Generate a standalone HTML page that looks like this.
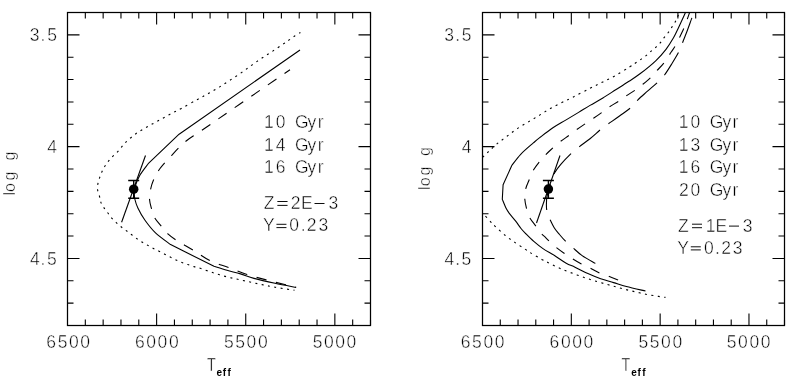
<!DOCTYPE html>
<html><head><meta charset="utf-8"><title>log g vs Teff</title>
<style>
html,body{margin:0;padding:0;background:#fff;}
body{width:795px;height:389px;overflow:hidden;}
svg{display:block;will-change:transform;}
.fr{fill:none;stroke:#000;stroke-width:1.25;}
.tk{fill:none;stroke:#000;stroke-width:1.1;}
.c{fill:none;stroke:#000;stroke-width:1.1;stroke-linejoin:round;}
.dot{stroke-dasharray:2 4.4;}
.dsh{stroke-dasharray:10 10;}
.lds{stroke-dasharray:26.5 10.7;}
.l_dot{stroke-dasharray:2 4.4227;stroke-dashoffset:0.4;}
.l_dsh{stroke-dasharray:10.3 9.7;stroke-dashoffset:3.5;}
.r_dot_a{stroke-dasharray:2 4.415;stroke-dashoffset:2.63;}
.r_dot_b{stroke-dasharray:2 4.442;stroke-dashoffset:0.5;}
.eb{fill:none;stroke:#000;stroke-width:1.4;}
.tx .hg{fill-opacity:0;stroke-opacity:0;}
.tx .gl{fill:none;stroke:#000;stroke-width:0.95;}
.tx text{font-family:"Liberation Sans",sans-serif;fill:#000;stroke:#fff;stroke-width:0.45;paint-order:normal;}
</style></head>
<body>
<svg width="795" height="389" viewBox="0 0 795 389">
<defs>
<clipPath id="cl"><rect x="67.5" y="12.5" width="303" height="313"/></clipPath>
<clipPath id="cr"><rect x="482.5" y="12.5" width="302" height="313"/></clipPath>
</defs>
<rect width="795" height="389" fill="#fff"/>
<rect x="67.5" y="12.5" width="303.0" height="313.0" class="fr"/>
<path d="M85.32,12.5v6M85.32,325.5v-6M103.15,12.5v6M103.15,325.5v-6M120.97,12.5v6M120.97,325.5v-6M138.79,12.5v6M138.79,325.5v-6M156.62,12.5v12M156.62,325.5v-12M174.44,12.5v6M174.44,325.5v-6M192.26,12.5v6M192.26,325.5v-6M210.09,12.5v6M210.09,325.5v-6M227.91,12.5v6M227.91,325.5v-6M245.74,12.5v12M245.74,325.5v-12M263.56,12.5v6M263.56,325.5v-6M281.38,12.5v6M281.38,325.5v-6M299.21,12.5v6M299.21,325.5v-6M317.03,12.5v6M317.03,325.5v-6M334.85,12.5v12M334.85,325.5v-12M352.68,12.5v6M352.68,325.5v-6M370.50,12.5v6M370.50,325.5v-6M67.5,34.86h12M370.5,34.86h-12M67.5,57.21h6M370.5,57.21h-6M67.5,79.57h6M370.5,79.57h-6M67.5,101.93h6M370.5,101.93h-6M67.5,124.29h6M370.5,124.29h-6M67.5,146.64h12M370.5,146.64h-12M67.5,169.00h6M370.5,169.00h-6M67.5,191.36h6M370.5,191.36h-6M67.5,213.71h6M370.5,213.71h-6M67.5,236.07h6M370.5,236.07h-6M67.5,258.43h12M370.5,258.43h-12M67.5,280.79h6M370.5,280.79h-6M67.5,303.14h6M370.5,303.14h-6" class="tk"/>
<rect x="482.5" y="12.5" width="302.0" height="313.0" class="fr"/>
<path d="M500.26,12.5v6M500.26,325.5v-6M518.03,12.5v6M518.03,325.5v-6M535.79,12.5v6M535.79,325.5v-6M553.56,12.5v6M553.56,325.5v-6M571.32,12.5v12M571.32,325.5v-12M589.09,12.5v6M589.09,325.5v-6M606.85,12.5v6M606.85,325.5v-6M624.62,12.5v6M624.62,325.5v-6M642.38,12.5v6M642.38,325.5v-6M660.15,12.5v12M660.15,325.5v-12M677.91,12.5v6M677.91,325.5v-6M695.68,12.5v6M695.68,325.5v-6M713.44,12.5v6M713.44,325.5v-6M731.21,12.5v6M731.21,325.5v-6M748.97,12.5v12M748.97,325.5v-12M766.74,12.5v6M766.74,325.5v-6M784.50,12.5v6M784.50,325.5v-6M482.5,34.86h12M784.5,34.86h-12M482.5,57.21h6M784.5,57.21h-6M482.5,79.57h6M784.5,79.57h-6M482.5,101.93h6M784.5,101.93h-6M482.5,124.29h6M784.5,124.29h-6M482.5,146.64h12M784.5,146.64h-12M482.5,169.00h6M784.5,169.00h-6M482.5,191.36h6M784.5,191.36h-6M482.5,213.71h6M784.5,213.71h-6M482.5,236.07h6M784.5,236.07h-6M482.5,258.43h12M784.5,258.43h-12M482.5,280.79h6M784.5,280.79h-6M482.5,303.14h6M784.5,303.14h-6" class="tk"/>
<g clip-path="url(#cl)"><path d="M300.40,32.50 C299.50,33.05 296.87,34.57 295.00,35.80 C293.13,37.03 291.03,38.62 289.20,39.90 C287.37,41.18 286.68,41.67 284.00,43.50 C281.32,45.33 276.70,48.52 273.10,50.90 C269.50,53.28 265.95,55.43 262.40,57.80 C258.85,60.17 255.28,62.63 251.80,65.10 C248.32,67.57 245.13,70.08 241.50,72.60 C237.87,75.12 233.70,77.78 230.00,80.20 C226.30,82.62 222.85,84.92 219.30,87.10 C215.75,89.28 212.32,91.25 208.70,93.30 C205.08,95.35 202.17,96.88 197.60,99.40 C193.03,101.92 185.95,105.90 181.30,108.40 C176.65,110.90 173.55,112.33 169.70,114.40 C165.85,116.47 162.00,118.70 158.20,120.80 C154.40,122.90 150.62,124.85 146.90,127.00 C143.18,129.15 139.45,131.13 135.90,133.70 C132.35,136.27 128.50,139.55 125.60,142.40 C122.70,145.25 121.10,147.98 118.50,150.80 C115.90,153.62 112.43,156.47 110.00,159.30 C107.57,162.13 105.63,164.72 103.90,167.80 C102.17,170.88 100.68,174.47 99.60,177.80 C98.52,181.13 97.42,184.72 97.40,187.80 C97.38,190.88 98.93,193.92 99.50,196.30 C100.07,198.68 100.05,200.17 100.80,202.10 C101.55,204.03 102.82,206.08 104.00,207.90 C105.18,209.72 106.62,211.30 107.90,213.00 C109.18,214.70 110.32,216.50 111.70,218.10 C113.08,219.70 114.70,221.20 116.20,222.60 C117.70,224.00 119.10,225.22 120.70,226.50 C122.30,227.78 124.08,229.02 125.80,230.30 C127.52,231.58 129.28,232.90 131.00,234.20 C132.72,235.50 134.28,236.80 136.10,238.10 C137.92,239.40 139.97,240.80 141.90,242.00 C143.83,243.20 145.78,244.23 147.70,245.30 C149.62,246.37 151.52,247.42 153.40,248.40 C155.28,249.38 157.12,250.23 159.00,251.20 C160.88,252.17 162.82,253.22 164.70,254.20 C166.58,255.18 168.42,256.15 170.30,257.10 C172.18,258.05 174.07,259.00 176.00,259.90 C177.93,260.80 179.93,261.72 181.90,262.50 C183.87,263.28 185.78,263.92 187.80,264.60 C189.82,265.28 191.82,265.95 194.00,266.60 C196.18,267.25 197.80,267.50 200.90,268.50 C204.00,269.50 208.55,271.28 212.60,272.60 C216.65,273.92 221.02,275.28 225.20,276.40 C229.38,277.52 233.57,278.37 237.70,279.30 C241.83,280.23 245.95,281.12 250.00,282.00 C254.05,282.88 257.83,283.73 262.00,284.60 C266.17,285.47 269.58,286.25 275.00,287.20 C280.42,288.15 291.25,289.78 294.50,290.30" class="c dot ldot l_dot"/>
<path d="M300.00,50.00 L179.10,134.20 L148.20,163.70 C146.83,165.58 142.10,171.45 140.00,175.00 C137.90,178.55 136.55,182.17 135.60,185.00 C134.65,187.83 134.43,189.67 134.30,192.00 C134.17,194.33 134.18,196.30 134.80,199.00 C135.42,201.70 136.30,204.65 138.00,208.20 C139.70,211.75 142.08,216.18 145.00,220.30 C147.92,224.42 151.23,228.85 155.50,232.90 C159.77,236.95 168.08,242.65 170.60,244.60 L214.00,266.30 C216.17,266.97 222.58,269.03 227.00,270.30 C231.42,271.57 236.00,272.55 240.50,273.90 C245.00,275.25 248.25,276.83 254.00,278.40 C259.75,279.97 267.97,281.80 275.00,283.30 C282.03,284.80 292.67,286.72 296.20,287.40" class="c sol lsol l_sol"/>
<path d="M290.00,69.80 C281.67,75.50 254.72,93.90 240.00,104.00 C225.28,114.10 210.82,124.12 201.70,130.40 C192.58,136.68 190.43,137.42 185.30,141.70 C180.17,145.98 175.12,151.63 170.90,156.10 C166.68,160.57 162.90,164.52 160.00,168.50 C157.10,172.48 155.13,176.25 153.50,180.00 C151.87,183.75 150.85,187.67 150.20,191.00 C149.55,194.33 149.40,197.13 149.60,200.00 C149.80,202.87 150.58,205.28 151.40,208.20 C152.22,211.12 152.78,214.42 154.50,217.50 C156.22,220.58 159.47,223.97 161.70,226.70 C163.93,229.43 165.50,231.67 167.90,233.90 C170.30,236.13 171.83,237.35 176.10,240.10 C180.37,242.85 187.85,246.97 193.50,250.40 C199.15,253.83 204.17,257.85 210.00,260.70 C215.83,263.55 222.33,265.20 228.50,267.50 C234.67,269.80 240.72,272.43 247.00,274.50 C253.28,276.57 259.92,278.23 266.20,279.90 C272.48,281.57 279.73,283.28 284.70,284.50 C289.67,285.72 294.12,286.75 296.00,287.20" class="c dsh ldsh l_dsh"/></g>
<g clip-path="url(#cr)"><path d="M480.00,160.00 C481.28,158.73 484.92,155.05 487.70,152.40 C490.48,149.75 493.48,146.78 496.70,144.10 C499.92,141.42 503.57,138.88 507.00,136.30 C510.43,133.72 513.67,131.05 517.30,128.60 C520.93,126.15 525.02,123.88 528.80,121.60 C532.58,119.32 536.42,117.08 540.00,114.90 C543.58,112.72 546.65,110.57 550.30,108.50 C553.95,106.43 558.05,104.43 561.90,102.50 C565.75,100.57 568.72,99.27 573.40,96.90 C578.08,94.53 585.08,90.80 590.00,88.30 C594.92,85.80 598.62,84.05 602.90,81.90 C607.18,79.75 611.27,77.88 615.70,75.40 C620.13,72.92 626.15,69.10 629.50,67.00 C632.85,64.90 633.78,64.15 635.80,62.80 C637.82,61.45 639.78,60.18 641.60,58.90 C643.42,57.62 645.10,56.38 646.70,55.10 C648.30,53.82 649.70,52.48 651.20,51.20 C652.70,49.92 654.20,48.78 655.70,47.40 C657.20,46.02 658.80,44.52 660.20,42.90 C661.60,41.28 662.75,39.43 664.10,37.70 C665.45,35.97 667.03,34.22 668.30,32.50 C669.57,30.78 670.53,29.18 671.70,27.40 C672.87,25.62 674.27,23.68 675.30,21.80 C676.33,19.92 677.12,17.65 677.90,16.10 C678.68,14.55 679.65,13.10 680.00,12.50" class="c dot rdot r_dot_a"/>
<path d="M665.50,297.40 C664.33,297.23 661.80,296.93 658.50,296.40 C655.20,295.87 649.87,295.03 645.70,294.20 C641.53,293.37 637.62,292.38 633.50,291.40 C629.38,290.42 625.18,289.40 621.00,288.30 C616.82,287.20 613.15,286.15 608.40,284.80 C603.65,283.45 597.75,281.85 592.50,280.20 C587.25,278.55 582.15,276.80 576.90,274.90 C571.65,273.00 565.85,270.88 561.00,268.80 C556.15,266.72 551.00,263.97 547.80,262.40 C544.60,260.83 544.60,260.95 541.80,259.40 C539.00,257.85 533.80,254.82 531.00,253.10 C528.20,251.38 527.70,250.88 525.00,249.10 C522.30,247.32 518.13,244.72 514.80,242.40 C511.47,240.08 508.28,237.88 505.00,235.20 C501.72,232.52 497.50,228.53 495.10,226.30 C492.70,224.07 492.58,223.93 490.60,221.80 C488.62,219.67 484.97,215.50 483.20,213.50 C481.43,211.50 480.53,210.42 480.00,209.80" class="c dot rdot r_dot_b"/>
<path d="M645.50,291.00 C642.32,290.25 631.72,287.90 626.40,286.50 C621.08,285.10 617.88,283.88 613.60,282.60 C609.32,281.32 604.98,280.30 600.70,278.80 C596.42,277.30 592.18,275.53 587.90,273.60 C583.62,271.67 578.62,268.93 575.00,267.20 C571.38,265.47 569.62,265.15 566.20,263.20 C562.78,261.25 558.37,257.93 554.50,255.50 C550.63,253.07 546.45,250.95 543.00,248.60 C539.55,246.25 536.70,243.92 533.80,241.40 C530.90,238.88 527.73,235.65 525.60,233.50 C523.47,231.35 522.65,230.55 521.00,228.50 C519.35,226.45 517.65,223.72 515.70,221.20 C513.75,218.68 510.90,215.55 509.30,213.40 C507.70,211.25 507.27,210.65 506.10,208.30 C504.93,205.95 502.93,200.80 502.30,199.30 L503.10,184.80 L511.80,165.50 C513.28,163.63 517.07,158.10 520.70,154.30 C524.33,150.50 530.38,145.52 533.60,142.70 C536.82,139.88 536.78,139.88 540.00,137.40 C543.22,134.92 548.62,130.68 552.90,127.80 C557.18,124.92 561.42,122.67 565.70,120.10 C569.98,117.53 574.55,114.85 578.60,112.40 C582.65,109.95 585.95,107.80 590.00,105.40 C594.05,103.00 598.62,100.60 602.90,98.00 C607.18,95.40 611.42,92.55 615.70,89.80 C619.98,87.05 624.55,84.17 628.60,81.50 C632.65,78.83 635.48,77.25 640.00,73.80 C644.52,70.35 651.37,64.88 655.70,60.80 C660.03,56.72 663.03,53.13 666.00,49.30 C668.97,45.47 671.40,41.43 673.50,37.80 C675.60,34.17 676.60,31.72 678.60,27.50 C680.60,23.28 684.35,15.00 685.50,12.50" class="c sol rsol r_sol"/>
<path d="M618.10,280.10 C616.48,279.45 611.52,277.38 608.40,276.20 C605.28,275.02 602.50,274.38 599.40,273.00 C596.30,271.62 592.80,269.40 589.80,267.90 C586.80,266.40 584.27,265.52 581.40,264.00 C578.53,262.48 575.48,260.60 572.60,258.80 C569.72,257.00 566.82,255.08 564.10,253.20 C561.38,251.32 558.78,249.50 556.30,247.50 C553.82,245.50 551.08,242.97 549.20,241.20 C547.32,239.43 546.33,238.20 545.00,236.90 C543.67,235.60 542.68,235.15 541.20,233.40 C539.72,231.65 538.03,229.07 536.10,226.40 C534.17,223.73 531.18,220.33 529.60,217.40 C528.02,214.47 527.42,212.07 526.60,208.80 C525.78,205.53 524.83,201.18 524.70,197.80 C524.57,194.42 525.02,191.60 525.80,188.50 C526.58,185.40 528.20,182.15 529.40,179.20 C530.60,176.25 531.35,173.67 533.00,170.80 C534.65,167.93 537.23,164.62 539.30,162.00 C541.37,159.38 543.52,157.10 545.40,155.10 C547.28,153.10 548.18,152.20 550.60,150.00 C553.02,147.80 556.85,144.32 559.90,141.90 C562.95,139.48 566.12,137.53 568.90,135.50 C571.68,133.47 573.82,131.70 576.60,129.70 C579.38,127.70 582.78,125.40 585.60,123.50 C588.42,121.60 590.73,120.18 593.50,118.30 C596.27,116.42 599.57,114.10 602.20,112.20 C604.83,110.30 606.52,108.75 609.30,106.90 C612.08,105.05 616.12,102.92 618.90,101.10 C621.68,99.28 623.32,97.82 626.00,96.00 C628.68,94.18 632.25,92.12 635.00,90.20 C637.75,88.28 639.90,86.60 642.50,84.50 C645.10,82.40 648.18,79.93 650.60,77.60 C653.02,75.27 654.75,72.97 657.00,70.50 C659.25,68.03 661.73,65.88 664.10,62.80 C666.47,59.72 669.33,54.82 671.20,52.00 C673.07,49.18 673.93,48.28 675.30,45.90 C676.67,43.52 677.95,40.70 679.40,37.70 C680.85,34.70 682.72,30.90 684.00,27.90 C685.28,24.90 686.17,22.27 687.10,19.70 C688.03,17.13 689.18,13.70 689.60,12.50" class="c dsh rdsh r_dsh"/>
<path d="M595.40,263.40 C593.18,262.10 585.90,258.25 582.10,255.60 C578.30,252.95 575.37,249.90 572.60,247.50 C569.83,245.10 567.68,243.37 565.50,241.20 C563.32,239.03 561.38,236.75 559.50,234.50 C557.62,232.25 555.92,230.48 554.20,227.70 C552.48,224.92 550.40,220.50 549.20,217.80 C548.00,215.10 547.47,213.63 547.00,211.50 C546.53,209.37 546.42,207.42 546.40,205.00 C546.38,202.58 546.47,199.67 546.90,197.00 C547.33,194.33 548.28,191.75 549.00,189.00 C549.72,186.25 550.25,183.23 551.20,180.50 C552.15,177.77 553.10,175.28 554.70,172.60 C556.30,169.92 558.25,167.40 560.80,164.40 C563.35,161.40 566.88,157.57 570.00,154.60 C573.12,151.63 576.17,149.25 579.50,146.60 C582.83,143.95 586.40,141.62 590.00,138.70 C593.60,135.78 598.05,131.57 601.10,129.10 C604.15,126.63 605.23,126.08 608.30,123.90 C611.37,121.72 615.72,118.73 619.50,116.00 C623.28,113.27 627.93,110.20 631.00,107.50 C634.07,104.80 635.15,102.52 637.90,99.80 C640.65,97.08 644.23,94.10 647.50,91.20 C650.77,88.30 654.67,85.10 657.50,82.40 C660.33,79.70 662.08,78.15 664.50,75.00 C666.92,71.85 669.57,67.45 672.00,63.50 C674.43,59.55 677.35,54.75 679.10,51.30 C680.85,47.85 681.10,46.35 682.50,42.80 C683.90,39.25 685.88,34.28 687.50,30.00 C689.12,25.72 691.08,20.02 692.20,17.10 C693.32,14.18 693.87,13.27 694.20,12.50" class="c lds rlds r_lds"/></g>
<path d="M145.5,155.5L121.6,222.2" class="c sol"/>
<path d="M128.20,180.5h11M128.20,198.3h11M133.70,180.5V198.3" class="eb"/>
<circle cx="133.7" cy="189.2" r="4.75" fill="#000"/>
<path d="M560,155.5L536.5,223" class="c sol"/>
<path d="M542.90,180.5h11M542.90,198.3h11M548.40,180.5V198.3" class="eb"/>
<circle cx="548.4" cy="189.1" r="4.75" fill="#000"/>
<g class="tx">
<text x="46.32 57.70 68.98 80.28" y="348.2" font-size="17.5">6500</text>
<text x="134.92 146.28 157.58 168.88" y="348.2" font-size="17.5">6000</text>
<text x="224.00 235.30 246.58 257.88" y="348.2" font-size="17.5">5500</text>
<text x="312.70 323.98 335.28 346.58" y="348.2" font-size="17.5">5000</text>
<text x="29.68 40.57 47.25" y="40.7" font-size="17.5">3.5</text>
<text x="47.19" y="152.6" font-size="17.5">4</text>
<text x="29.89 40.57 46.95" y="264.5" font-size="17.5">4.5</text>
<text x="0" y="0" font-size="18.5" transform="translate(206.98,370.6) scale(0.775,1)">T</text>
<text x="216.54 222.79 227.59" y="376.0" font-size="10" font-weight="bold" style="stroke:none">eff</text>
<text x="0.62 4.05 15.53 23.78 35.43" y="0" font-size="16" transform="translate(14.6,196.0) rotate(-90)">log g</text>
<text x="460.72 472.10 483.38 494.68" y="348.2" font-size="17.5">6500</text>
<text x="549.62 560.98 572.28 583.58" y="348.2" font-size="17.5">6000</text>
<text x="638.50 649.80 661.08 672.38" y="348.2" font-size="17.5">5500</text>
<text x="726.80 738.08 749.38 760.68" y="348.2" font-size="17.5">5000</text>
<text x="444.28 455.17 461.85" y="40.7" font-size="17.5">3.5</text>
<text x="461.79" y="152.6" font-size="17.5">4</text>
<text x="444.49 455.17 461.55" y="264.5" font-size="17.5">4.5</text>
<text x="0" y="0" font-size="18.5" transform="translate(621.58,370.6) scale(0.775,1)">T</text>
<text x="631.14 637.39 642.19" y="376.0" font-size="10" font-weight="bold" style="stroke:none">eff</text>
<text x="6.02 9.75 20.43 28.78 40.03" y="0" font-size="16" transform="translate(429.8,196.0) rotate(-90)">log g</text>
<text x="264.03 275.73 287.57 295.06 307.52 317.85" y="128.4" font-size="17.5">10 Gyr</text>
<text x="264.03 275.79 287.57 295.06 307.52 317.85" y="150.9" font-size="17.5">14 Gyr</text>
<text x="264.03 275.67 287.57 295.06 307.52 317.85" y="173.1" font-size="17.5">16 Gyr</text>
<text x="263.75 277.34 290.73 301.02 314.39 328.38" y="209.4" font-size="17.5">Z<tspan class="hg">=</tspan>2E<tspan class="hg">&#8722;</tspan>3</text><path d="M277.35,201.50h10.2M277.35,205.40h10.2M314.50,203.50h10.0" class="gl"/>
<text x="262.96 276.34 289.23 300.77 306.63 318.38" y="231.3" font-size="17.5">Y<tspan class="hg">=</tspan>0.23</text><path d="M276.45,224.30h10.0M276.45,227.60h10.0" class="gl"/>
<text x="678.83 690.53 702.57 709.71 722.52 732.55" y="128.4" font-size="17.5">10 Gyr</text>
<text x="678.83 690.58 702.57 709.71 722.52 732.55" y="151.0" font-size="17.5">13 Gyr</text>
<text x="678.83 690.47 702.57 709.71 722.52 732.55" y="173.0" font-size="17.5">16 Gyr</text>
<text x="678.93 690.53 702.57 709.71 722.52 732.55" y="196.2" font-size="17.5">20 Gyr</text>
<text x="678.05 691.89 705.73 715.62 728.89 742.78" y="231.5" font-size="17.5">Z<tspan class="hg">=</tspan>1E<tspan class="hg">&#8722;</tspan>3</text><path d="M692.00,224.20h10.0M692.00,227.70h10.0M729.00,226.10h10.0" class="gl"/>
<text x="677.26 690.69 703.93 715.07 721.13 732.78" y="254.1" font-size="17.5">Y<tspan class="hg">=</tspan>0.23</text><path d="M690.80,246.80h10.0M690.80,249.90h10.0" class="gl"/>
</g>
</svg>
</body></html>
